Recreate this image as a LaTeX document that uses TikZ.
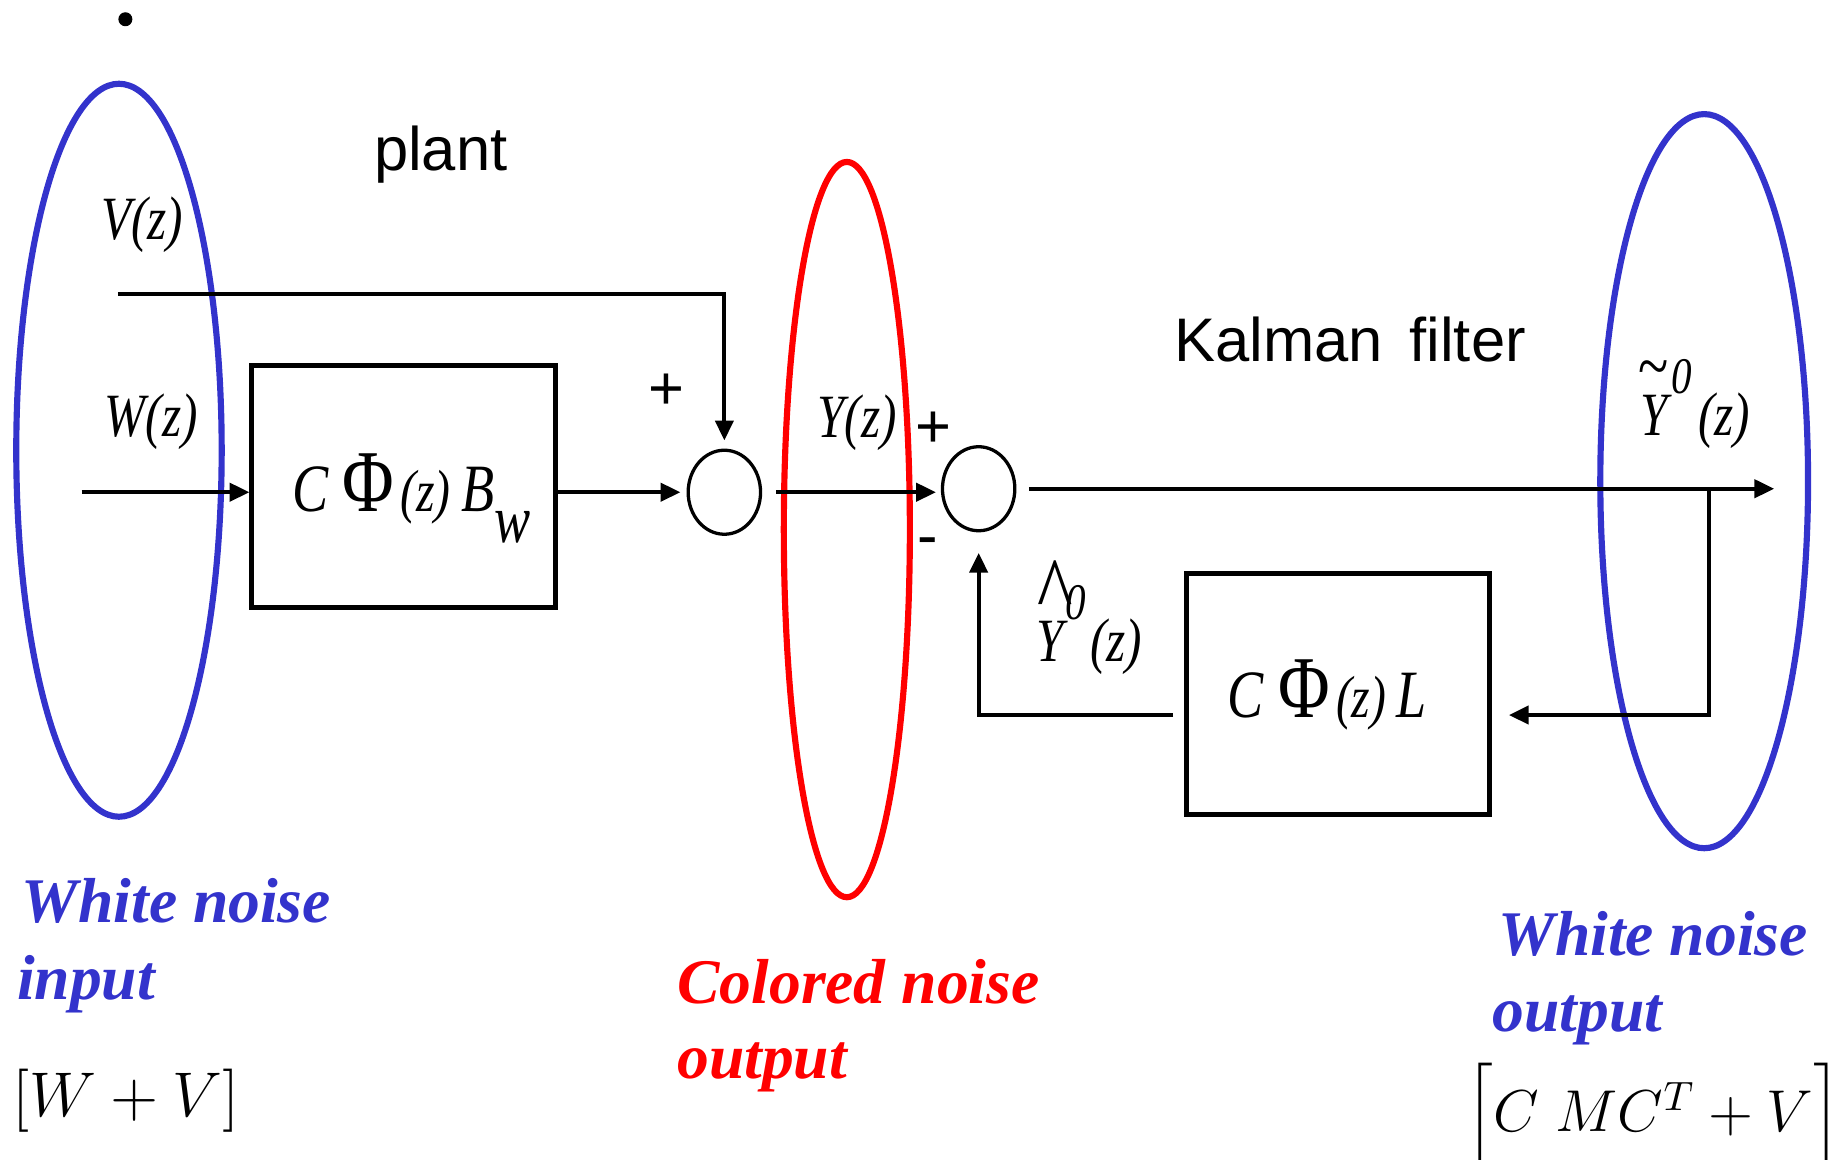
\RequirePackage{fix-cm}
\documentclass[tikz,border=0pt]{standalone}
\usepackage{exscale}
\usepackage{fontspec}
\usetikzlibrary{arrows.meta,shapes.geometric}
\newfontfamily\sansf{Liberation Sans}
\newfontfamily\timr{Liberation Serif}
\newfontfamily\timcu[FakeStretch=0.8]{Liberation Serif}
\newfontfamily\timci[FakeStretch=0.8]{Liberation Serif Italic}
\newfontfamily\timbi{Liberation Serif Bold Italic}
\definecolor{nblue}{RGB}{51,51,204}
\definecolor{nred}{RGB}{255,0,0}
\newcommand{\fsz}[1]{\fontsize{#1}{#1}\selectfont}
\begin{document}
\begin{tikzpicture}[x=0.01cm,y=-0.01cm,
  conn/.style={line width=0.95pt,-{Triangle[length=4.8pt,width=4.4pt]}},
  blockbox/.style={draw,line width=1.2pt,minimum width=2.6cm,minimum height=2.07cm,inner sep=0pt},
  sumnode/.style={draw,ellipse,line width=0.8pt,minimum width=0.62cm,minimum height=0.72cm,inner sep=0pt},
  noiseell/.style={line width=1.5pt},
  lbl/.style={inner sep=0pt,anchor=base west},
  mlbl/.style={lbl,font=\timci\fsz{15}},
  sans/.style={inner sep=0pt,font=\sansf\fsz{15}},
  wn/.style={lbl,font=\timbi\fsz{15.5}}]
\useasboundingbox (0,0) rectangle (1568,994);

% noise ellipses
\draw[noiseell,nblue] (102,386) ellipse [x radius=0.88cm, y radius=3.14cm];
\draw[noiseell,nred] (726,454) ellipse [x radius=0.54cm, y radius=3.15cm];
\draw[noiseell,nblue] (1461,412.5) ellipse [x radius=0.89cm, y radius=3.145cm];

% dot
\fill (107.5,16.5) circle [radius=0.06cm];

% blocks
\node[blockbox] (box1) at (346,417) {};
\node[blockbox] (box2) at (1147,595) {};
\node[sumnode] (sum1) at (621,422) {};
\node[sumnode] (sum2) at (839,419) {};

% block texts
\node[lbl] (t1) at (250,438.6) {\timci\fsz{16.5}C\hspace{3.5pt}{\timcu\fsz{21.5}Φ}\hspace{1.5pt}{\fsz{14.5}(z)}\hspace{2.5pt}B\raisebox{-7.5pt}{w}};
\node[lbl] (t2) at (1052,615.5) {\timci\fsz{16.5}C\hspace{3.5pt}{\timcu\fsz{21.5}Φ}\hspace{1.5pt}{\fsz{14.5}(z)}\hspace{2.5pt}L};

% coordinates
\coordinate (vin) at (101,252);
\coordinate (win) at (70,422);
\coordinate (yout) at (1521,419);
\coordinate (br) at (1465,419);
\coordinate (fbk) at (1465,613);

% connectors
\draw[conn,shorten >=2pt] (vin) -| (sum1.north);
\draw[conn] (win) -- (win -| box1.west);
\draw[conn,shorten >=1.5pt] (box1.east |- sum1.west) -- (sum1.west);
\draw[conn,shorten <=3.4pt,shorten >=1.2pt] (sum1.east) -- (sum1.east -| sum2.west);
\draw[conn,shorten <=3pt] (sum2.east) -- (yout);
\draw[conn,shorten >=4.1pt] (br) -- (fbk) -- (fbk -| box2.east);
\draw[conn,shorten <=2.6pt,shorten >=5pt] (box2.west |- fbk) -| (sum2.south);

% titles
\node[lbl,font=\sansf\fsz{15}] (plant) at (320,146) {plant};
\node[lbl,font=\sansf\fsz{15}] (kf) at (1006,310) {Kalman\hspace{6.5pt}filter};

% signal labels
\node[mlbl] (vz) at (86,205) {V(z)};
\node[mlbl] (wz) at (89,374) {W(z)};
\node[mlbl] (yz) at (700,375) {Y(z)};

% signs
\node[sans] (p1) at (571.5,335.5) {+};
\node[sans] (p2) at (800.5,368) {+};
\node[sans] (m2) at (795,469) {-};

% hat Y label
\node[mlbl] (yh) at (888,567) {Y};
\node[lbl,font=\timcu\fsz{23}] (hat) at (889,534) {\char"5E};
\node[lbl,font=\timci\fsz{12.5}] (yh0) at (913,531.5) {0};
\node[mlbl] (yhz) at (934,567) {(z)};

% tilde Y label
\node[mlbl] (yt) at (1406,373) {Y};
\node[lbl,font=\timcu\fsz{17}] (tl) at (1404,334) {\char"7E};
\node[lbl,font=\timci\fsz{12.5}] (yt0) at (1432,337) {0};
\node[mlbl] (ytz) at (1455,373) {(z)};

% noise descriptions
\node[wn,text=nblue] (wni1) at (18,791) {White noise};
\node[wn,text=nblue] (wni2) at (14,857) {input};
\node[wn,text=nred] (cn1) at (580,860) {Colored noise};
\node[wn,text=nred] (cn2) at (580,925) {output};
\node[wn,text=nblue] (wno1) at (1284,819) {White noise};
\node[wn,text=nblue] (wno2) at (1279,884) {output};

% covariances
\node[lbl,font=\fsz{15.4}] (cv1) at (10,957) {$[W+V]$};
\node[lbl,font=\fsz{14.4}] (cv2) at (1256,970) {$\Big[C\;MC^{T}+V\Big]$};
\end{tikzpicture}
\end{document}
